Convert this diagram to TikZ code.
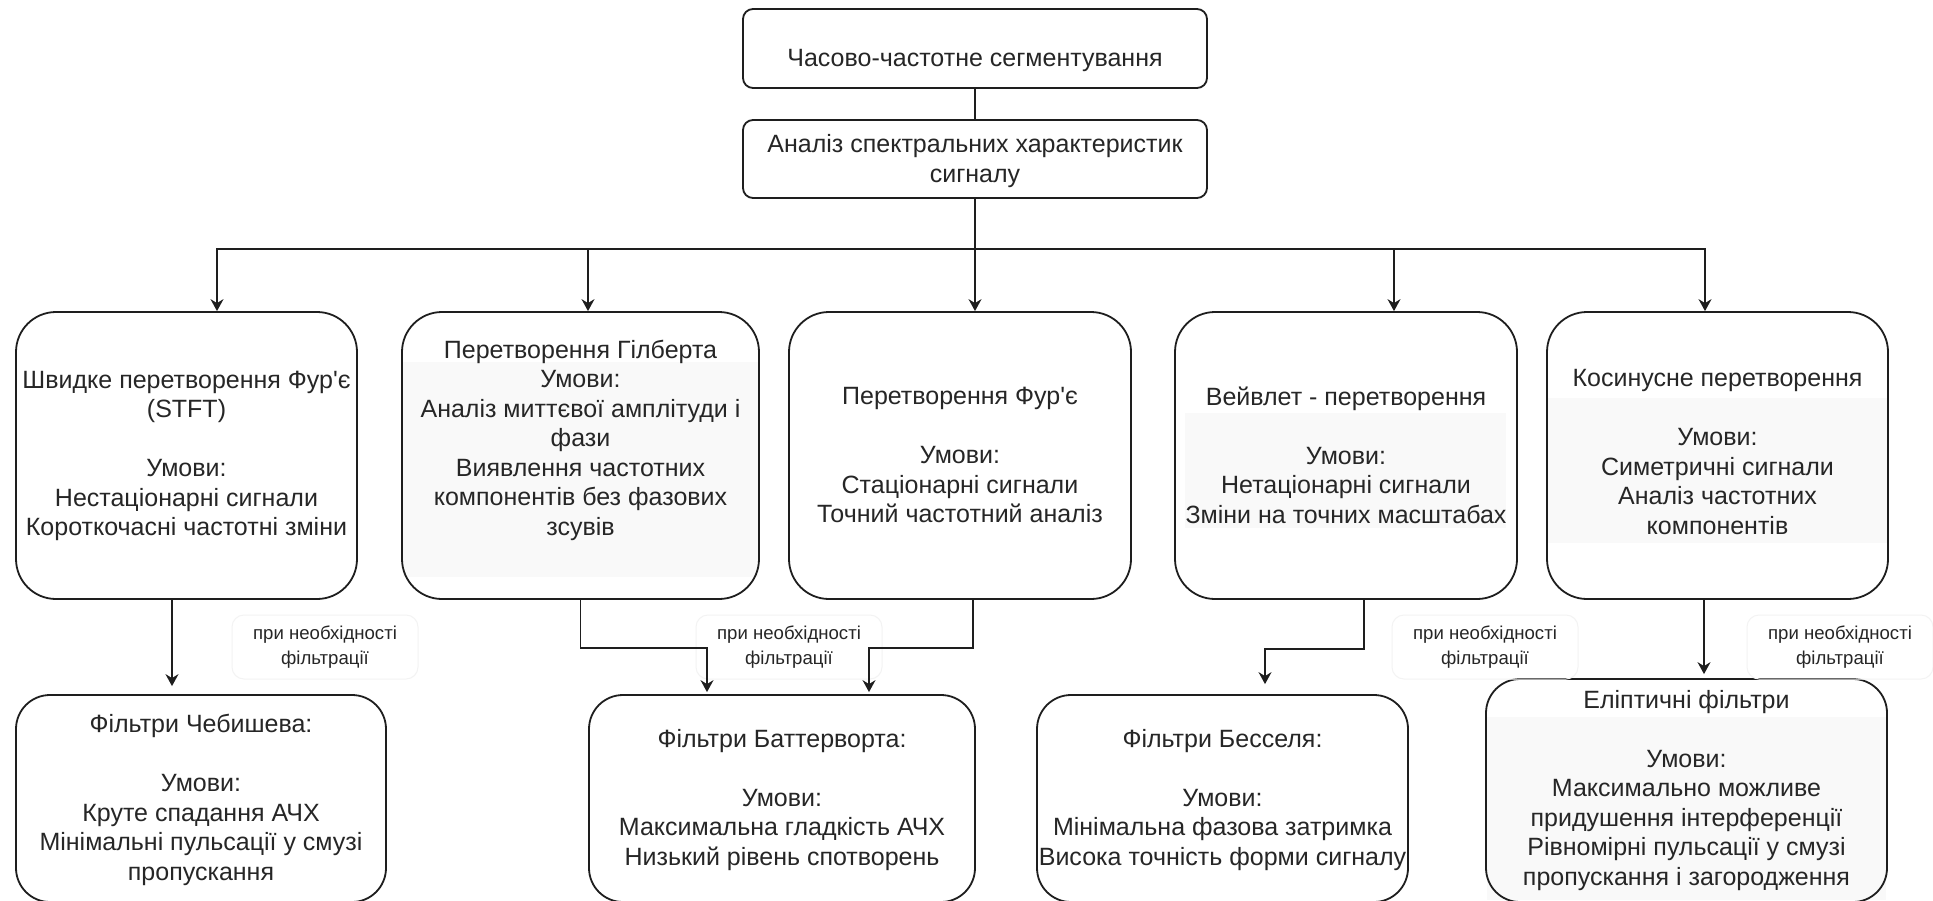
\documentclass[tikz,border=0pt]{standalone}
\usepackage{fontspec}
\setmainfont{Liberation Sans}
\usetikzlibrary{arrows.meta,calc}
\definecolor{ln}{HTML}{1E1E1E}
\definecolor{tx}{HTML}{262626}
\definecolor{hl}{HTML}{F9F9F9}
\definecolor{lb}{HTML}{F3F3F3}
\begin{document}
\begin{tikzpicture}[x=0.5pt,y=-0.5pt,
  sbox/.style={draw=ln, line width=0.9pt, rounded corners=5pt, inner sep=0pt},
  rbox/.style={draw=ln, line width=0.9pt, rounded corners=20pt, inner sep=0pt},
  fbox/.style={draw=ln, line width=0.9pt, rounded corners=17pt, inner sep=0pt},
  txt/.style={text=tx, align=center, inner sep=0pt, font=\fontsize{12.5pt}{14.75pt}\selectfont},
  lbl/.style={draw=lb, line width=0.5pt, rounded corners=6pt, text=tx, align=center,
    minimum width=93pt, minimum height=32pt, inner sep=0pt,
    font=\fontsize{9.3pt}{12.5pt}\selectfont},
  con/.style={draw=ln, line width=0.75pt},
  arr/.style={con, -{Stealth[length=6pt,width=6.5pt,inset=2pt]}},
  hlr/.style={fill=hl, draw=none}
]
\useasboundingbox (0,0) rectangle (1933,900);
\fill[white] (0,0) rectangle (1933,900);

% light highlight areas
\fill[hlr] (403,362) rectangle (758,577);
\fill[hlr] (1185,413) rectangle (1506,528);
\fill[hlr] (1548,398) rectangle (1887,543);
\fill[hlr] (1487,717) rectangle (1886,900);

% top boxes
\node[sbox, minimum width=232pt, minimum height=39.5pt] (A) at (975,48.5) {};
\node[txt] (At) at (975,60) {Часово-частотне сегментування};
\node[sbox, minimum width=232pt, minimum height=39pt] (B) at (975,159) {};
\node[txt] (Bt) at (975,161) {Аналіз спектральних характеристик\\сигналу};

% second row
\node[rbox, minimum width=170.5pt, minimum height=143.5pt] (b1) at (186.5,455.5) {};
\node[rbox, minimum width=178.5pt, minimum height=143.5pt] (b2) at (580.5,455.5) {};
\node[rbox, minimum width=171pt, minimum height=143.5pt] (b3) at (960,455.5) {};
\node[rbox, minimum width=171pt, minimum height=143.5pt] (b4) at (1346,455.5) {};
\node[rbox, minimum width=170.5pt, minimum height=143.5pt] (b5) at (1717.5,455.5) {};

\node[txt] (b1t) at (186.5,456) {Швидке перетворення Фур\textquotesingle є\\(STFT)\\[14.75pt]Умови:\\Нестаціонарні сигнали\\Короткочасні частотні зміни};
\node[txt] (b2t) at (580.5,440) {Перетворення Гілберта\\Умови:\\Аналіз миттєвої амплітуди і\\фази\\Виявлення частотних\\компонентів без фазових\\зсувів};
\node[txt] (b3t) at (960,455) {Перетворення Фур\textquotesingle є\\[14.75pt]Умови:\\Стаціонарні сигнали\\Точний частотний аналіз};
\node[txt] (b4t) at (1346,455) {Вейвлет - перетворення\\[14.75pt]Умови:\\Нетаціонарні сигнали\\Зміни на точних масштабах};
\node[txt] (b5t) at (1717.5,452) {Косинусне перетворення\\[14.75pt]Умови:\\Симетричні сигнали\\Аналіз частотних\\компонентів};

% third row
\node[fbox, minimum width=185pt, minimum height=103.5pt] (cheb) at (201,798.5) {};
\node[fbox, minimum width=193pt, minimum height=103.5pt] (butter) at (782,798.5) {};
\node[fbox, minimum width=185.5pt, minimum height=103.5pt] (bessel) at (1222.5,798.5) {};
\node[fbox, minimum width=200.5pt, minimum height=111.5pt] (ellip) at (1686.5,790.5) {};

\node[txt] (chebt) at (201,800) {Фільтри Чебишева:\\[14.75pt]Умови:\\Круте спадання АЧХ\\Мінімальні пульсації у смузі\\пропускання};
\node[txt] (buttert) at (782,800) {Фільтри Баттерворта:\\[14.75pt]Умови:\\Максимальна гладкість АЧХ\\Низький рівень спотворень};
\node[txt] (besselt) at (1222.5,800) {Фільтри Бесселя:\\[14.75pt]Умови:\\Мінімальна фазова затримка\\Висока точність форми сигналу};
\node[txt] (ellipt) at (1686.5,790.5) {Еліптичні фільтри\\[14.75pt]Умови:\\Максимально можливе\\придушення інтерференції\\Рівномірні пульсації у смузі\\пропускання і загородження};

% edge labels
\node[lbl] (L1) at (325,647) {при необхідності\\фільтрації};
\node[lbl] (L2) at (789,647) {при необхідності\\фільтрації};
\node[lbl] (L3) at (1485,647) {при необхідності\\фільтрації};
\node[lbl] (L4) at (1840,647) {при необхідності\\фільтрації};

% connectors
\draw[con] (A) -- (B);
\coordinate (bus) at (975,249);
\draw[con] (B.south) -- (bus);
\draw[arr] (bus) -| ([xshift=15.25pt]b1.north);
\draw[arr] (bus) -| ([xshift=3.75pt]b2.north);
\draw[arr] (bus) -- (b3.north -| bus);
\draw[arr] (bus) -| ([xshift=24pt]b4.north);
\draw[arr] (bus) -| ([xshift=-6.25pt]b5.north);

\draw[arr, shorten >=4pt] ([xshift=-7.25pt]b1.south) -- ([xshift=-7.25pt]b1.south |- cheb.north);
\draw[arr, shorten >=1pt] (b2.south) -- ++(0,48) -| ([xshift=-37.5pt]butter.north);
\draw[arr, shorten >=1pt] ([xshift=6.5pt]b3.south) -- ++(0,48) -| ([xshift=43.5pt]butter.north);
\draw[arr, shorten >=5pt] ([xshift=9pt]b4.south) -- ++(0,49) -| ([xshift=21.25pt]bessel.north);
\draw[arr, shorten >=2pt] ([xshift=-6.75pt]b5.south) -- ([xshift=-6.75pt]b5.south |- ellip.north);
\end{tikzpicture}
\end{document}
